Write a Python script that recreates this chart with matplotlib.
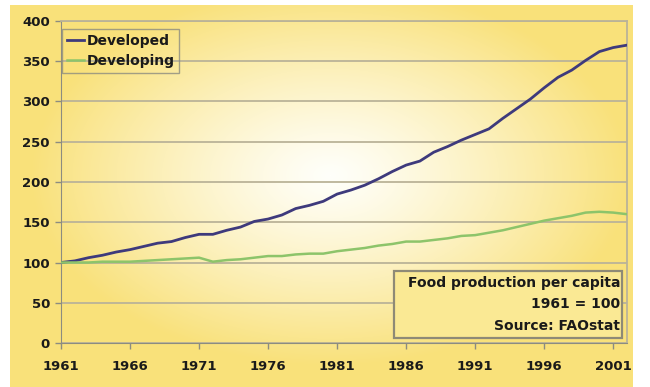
import numpy as np
import matplotlib
matplotlib.use("Agg")
import matplotlib.pyplot as plt
from matplotlib.patches import Rectangle

plt.rcParams['font.family'] = ['DejaVu Sans']
plt.rcParams['font.weight'] = 'bold'

# data (index, 1961 = 100)
years = list(range(1961, 2003))
developed = [100, 102, 106, 109, 113, 116, 120, 124, 126, 131,
             135, 135, 140, 144, 151, 154, 159, 167, 171, 176,
             185, 190, 196, 204, 213, 221, 226, 237, 244, 252,
             259, 266, 279, 291, 303, 317, 330, 339, 351, 362,
             367, 370]
developing = [100, 100, 100, 101, 101, 101, 102, 103, 104, 105,
              106, 101, 103, 104, 106, 108, 108, 110, 111, 111,
              114, 116, 118, 121, 123, 126, 126, 128, 130, 133,
              134, 137, 140, 144, 148, 152, 155, 158, 162, 163,
              162, 160]
series_names = ['Developed', 'Developing']
note_lines = ['Food production per capita', '1961 = 100', 'Source: FAOstat']
xtick_years = list(range(1961, 2002, 5))
yticks = list(range(0, 401, 50))

W, H = 650, 387
fig = plt.figure(figsize=(W / 100, H / 100), dpi=100, facecolor='white')

# yellow panel with white radial glow
bg = fig.add_axes([10 / W, 0, 623 / W, 382 / H])
bg.set_axis_off()
gx, gy = np.meshgrid(np.arange(623), np.arange(382))
r = np.sqrt(((gx - 320) / 300.0) ** 2 + ((gy - 170) / 190.0) ** 2)
t = np.clip(r, 0, 1) ** 1.2
yellow = np.array([249, 225, 122]) / 255.0
white = np.array([255, 255, 250]) / 255.0
img = white[None, None, :] * (1 - t[..., None]) + yellow[None, None, :] * t[..., None]
bg.imshow(img, aspect='auto', interpolation='bilinear')

ax = fig.add_axes([61 / W, 1 - 343 / H, 566 / W, 322 / H])
ax.patch.set_alpha(0)
ax.set_xlim(1961, 2002)
ax.set_ylim(0, 400)

ax.plot(years, developed, color='#3E3A7C', lw=2.0, label=series_names[0], zorder=3)
ax.plot(years, developing, color='#8DC46A', lw=1.8, label=series_names[1], zorder=3)

ax.set_yticks(yticks)
ax.set_xticks(xtick_years)
ax.tick_params(axis='both', labelsize=9.5, colors='#8C8C80', labelcolor='#1A1A1A',
               length=4, width=1)
ax.tick_params(axis='x', pad=8)
ax.tick_params(axis='y', pad=4)
ax.yaxis.grid(True, color='#BAB398', lw=1.3)
ax.set_axisbelow(True)
for s in ['left', 'bottom']:
    ax.spines[s].set_color('#8C8C80')
for s in ['top', 'right']:
    ax.spines[s].set_color('#BAB398')
    ax.spines[s].set_linewidth(1.3)

leg = ax.legend(loc='upper left', bbox_to_anchor=(0.002, 0.975), borderaxespad=0,
                frameon=True, fancybox=False, fontsize=10, handlelength=1.2,
                handletextpad=0.2, borderpad=0.35, labelspacing=0.45,
                prop={'weight': 'bold', 'size': 10})
leg.get_frame().set_facecolor('none')
leg.get_frame().set_edgecolor('#8C8C80')
leg.get_frame().set_linewidth(1.0)
for txt in leg.get_texts():
    txt.set_color('#1A1A1A')

# note box in lower right
ax.add_patch(Rectangle((0.588, 0.0155), 0.403, 0.208, transform=ax.transAxes,
                       facecolor='#FAE994', edgecolor='#8E8A76', lw=1.6, zorder=4))
for i, line in enumerate(note_lines):
    ax.text(0.988, 0.186 - i * 0.066, line, transform=ax.transAxes, ha='right',
            va='center', fontsize=10, fontweight='bold', color='#1A1A1A', zorder=5)

fig.savefig('out.png', dpi=100)
